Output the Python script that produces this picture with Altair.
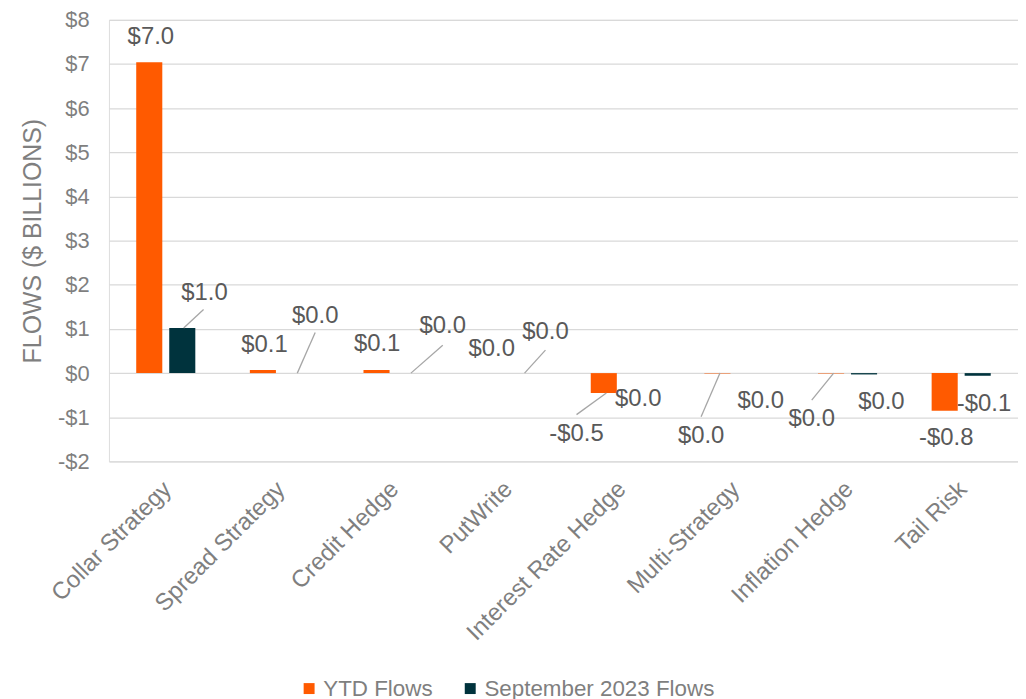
import altair as alt
import pandas as pd

categories = ["Collar Strategy", "Spread Strategy", "Credit Hedge", "PutWrite",
              "Interest Rate Hedge", "Multi-Strategy", "Inflation Hedge", "Tail Risk"]
series_names = ["YTD Flows", "September 2023 Flows"]
ytd_flows = [7.04, 0.07, 0.07, 0.0, -0.45, -0.01, -0.01, -0.85]
sep_flows = [1.02, 0.0, 0.0, 0.0, 0.0, 0.0, -0.03, -0.06]
ytd_labels = ["$7.0", "$0.1", "$0.1", "$0.0", "-$0.5", "$0.0", "$0.0", "-$0.8"]
sep_labels = ["$1.0", "$0.0", "$0.0", "$0.0", "$0.0", "$0.0", "$0.0", "-$0.1"]
y_ticks = [-2, -1, 0, 1, 2, 3, 4, 5, 6, 7, 8]

# label placement (Excel-style manual label positions): value-axis anchor and pixel shift
ytd_label_y = [7.6, 0.63, 0.65, 0.54, -1.37, -1.42, -1.03, -1.46]
ytd_label_dx = [-15, -15, -16, -15, -44, -33, -36, -15]
sep_label_y = [1.82, 1.30, 1.06, 0.92, -0.58, -0.63, -0.65, -0.70]
sep_label_dx = [39, 36, 50, 39, 18, 27, 34, 23]

# leader lines: (category, y from, dx from, y to, dx to)
leader_cat = ["Collar Strategy", "Spread Strategy", "Credit Hedge", "PutWrite",
              "Interest Rate Hedge", "Multi-Strategy", "Inflation Hedge"]
leader_y1 = [1.02, 0.0, 0.0, 0.0, -0.94, -0.99, -0.61]
leader_dx1 = [18, 18, 18, 18, -44, -33, -36]
leader_y2 = [1.44, 0.92, 0.63, 0.52, -0.45, 0.0, 0.0]
leader_dx2 = [38, 36, 50, 39, -14, -14, -14]

ORANGE = "#FF5A00"
DARK = "#00333D"
FONT = "Liberation Sans"
HALF_GROUP = 29.7  # offsets are measured from the group centre; Vega-Lite offsets from band start

bars = pd.DataFrame({
    "category": categories * 2,
    "series": [series_names[0]] * 8 + [series_names[1]] * 8,
    "value": ytd_flows + sep_flows,
})
labels = pd.DataFrame({
    "category": categories * 2,
    "text": ytd_labels + sep_labels,
    "ly": ytd_label_y + sep_label_y,
    "dx": ytd_label_dx + sep_label_dx,
})
leaders = pd.DataFrame({
    "category": leader_cat * 2,
    "id": list(range(len(leader_cat))) * 2,
    "ly": leader_y1 + leader_y2,
    "dx": leader_dx1 + leader_dx2,
})

x_enc = alt.X("category:N", sort=categories, title=None,
              scale=alt.Scale(paddingInner=0.48, paddingOuter=0.24),
              axis=alt.Axis(labelAngle=-45, labelAlign="right", labelBaseline="middle",
                            labelFontSize=24, labelColor="#7F7F7F", labelFont=FONT,
                            labelLimit=0, labelOffset=2,
                            domain=False, ticks=False, labelPadding=24, grid=False))
y_scale = alt.Scale(domain=[-2, 8], nice=False)

bar_layer = alt.Chart(bars).mark_bar().encode(
    x=x_enc,
    xOffset=alt.XOffset("series:N", sort=series_names,
                        scale=alt.Scale(paddingInner=0.21, paddingOuter=0)),
    y=alt.Y("value:Q", scale=y_scale, title="FLOWS ($ BILLIONS)",
            axis=alt.Axis(values=y_ticks, labelExpr="datum.value < 0 ? '-$' + abs(datum.value) : '$' + datum.value",
                          labelFontSize=22, labelColor="#7F7F7F", labelFont=FONT,
                          titleFontSize=25, titleColor="#7F7F7F", titleFont=FONT,
                          titleFontWeight="normal", titlePadding=12,
                          domain=False, ticks=False, labelPadding=20,
                          gridColor="#D9D9D9", gridWidth=1.3)),
    color=alt.Color("series:N", sort=series_names,
                    scale=alt.Scale(domain=series_names, range=[ORANGE, DARK]),
                    legend=alt.Legend(title=None, orient="none", direction="horizontal",
                                      legendX=190, legendY=661, symbolType="square",
                                      symbolSize=121, symbolStrokeWidth=0,
                                      labelFontSize=22.5, labelColor="#7F7F7F", labelFont=FONT,
                                      labelLimit=0, labelOffset=3, columnPadding=26)),
)

leader_layer = alt.Chart(leaders).transform_calculate(
    px=f"datum.dx + {HALF_GROUP}"
).mark_line(color="#A6A6A6", strokeWidth=1.3).encode(
    x=alt.X("category:N", sort=categories),
    xOffset=alt.XOffset("px:Q", scale=None),
    y=alt.Y("ly:Q", scale=y_scale),
    detail="id:N",
)

text_layer = alt.Chart(labels).transform_calculate(
    px=f"datum.dx + {HALF_GROUP}"
).mark_text(fontSize=24, color="#595959", font=FONT,
            baseline="middle", align="center").encode(
    x=alt.X("category:N", sort=categories),
    xOffset=alt.XOffset("px:Q", scale=None),
    y=alt.Y("ly:Q", scale=y_scale),
    text="text:N",
)

chart = alt.layer(bar_layer, leader_layer, text_layer).resolve_scale(
    xOffset="independent"
).properties(
    width=914, height=444,
    autosize=alt.AutoSizeParams(type="none"),
    padding={"left": 101.5, "top": 10, "right": 0, "bottom": 245},
).configure_view(stroke=None).configure(background="white")

chart.save("out.html", embed_options={"renderer": "svg", "actions": False})
